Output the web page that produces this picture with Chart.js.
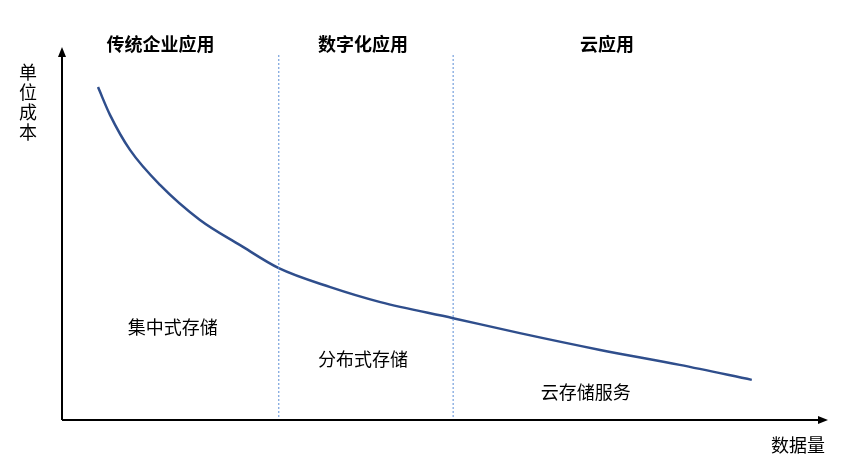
<!DOCTYPE html><html><head><meta charset="utf-8">
<script src="https://cdn.jsdelivr.net/npm/chart.js@4"></script>
<style>body{margin:0;background:#fff}#w{width:865px;height:469px}</style></head><body><div id="w"><canvas id="c"></canvas></div>
<script>
const curveX=[4.75,6.33,8.97,12.93,18.2,23.5,28.6,35.4,42.0,51.6,60.4,71.0,81.5,91.0];
const curveY=[91.2,83.6,74.0,64.4,54.8,47.9,41.6,36.4,32.3,27.9,23.8,19.2,15.1,11.0];
const dividers=[28.6,51.6];
const headings=["传统企业应用","数字化应用","云应用"];
const headingX=[13,39.7,71.9];
const regionLabels=["集中式存储","分布式存储","云存储服务"];
const regionX=[14.6,39.7,69.1];
const regionY=[25.5,16.7,7.7];
const F='"Noto Sans CJK SC","Noto Sans",sans-serif';
const deco={id:'deco',afterDraw(ch){const c=ch.ctx,x=ch.scales.x,y=ch.scales.y,a=ch.chartArea;c.save();
c.strokeStyle='#5B8ED6';c.lineWidth=1;c.setLineDash([2,2]);
dividers.forEach(d=>{const p=x.getPixelForValue(d);c.beginPath();c.moveTo(p,a.top);c.lineTo(p,a.bottom);c.stroke();});
c.setLineDash([]);c.strokeStyle='#000';c.fillStyle='#000';c.lineWidth=2;
c.beginPath();c.moveTo(a.left,a.bottom);c.lineTo(a.right,a.bottom);c.moveTo(a.left,a.bottom);c.lineTo(a.left,a.top);c.stroke();
c.beginPath();c.moveTo(a.right+8,a.bottom);c.lineTo(a.right-2,a.bottom-4);c.lineTo(a.right-2,a.bottom+4);c.fill();
c.beginPath();c.moveTo(a.left,a.top-8);c.lineTo(a.left-4,a.top+2);c.lineTo(a.left+4,a.top+2);c.fill();
c.textAlign='center';c.textBaseline='middle';c.font='bold 18px '+F;
headings.forEach((h,i)=>c.fillText(h,x.getPixelForValue(headingX[i]),44));
c.font='18px '+F;
regionLabels.forEach((h,i)=>c.fillText(h,x.getPixelForValue(regionX[i]),y.getPixelForValue(regionY[i])));
c.fillText('数据量',798,445);
['单','位','成','本'].forEach((t,i)=>c.fillText(t,28,72+i*20));
c.restore();}};
new Chart(document.getElementById('c'),{type:'line',
data:{datasets:[{data:curveX.map((v,i)=>({x:v,y:curveY[i]})),borderColor:'#2F4E8C',borderWidth:2.5,pointRadius:0,tension:0.4,cubicInterpolationMode:'monotone',fill:false}]},
options:{responsive:true,maintainAspectRatio:false,animation:false,layout:{padding:{left:62,right:45,top:55,bottom:49}},
plugins:{legend:{display:false},tooltip:{enabled:false}},
scales:{x:{type:'linear',min:0,max:100,display:false},y:{min:0,max:100,display:false}}},plugins:[deco]});
</script></body></html>
